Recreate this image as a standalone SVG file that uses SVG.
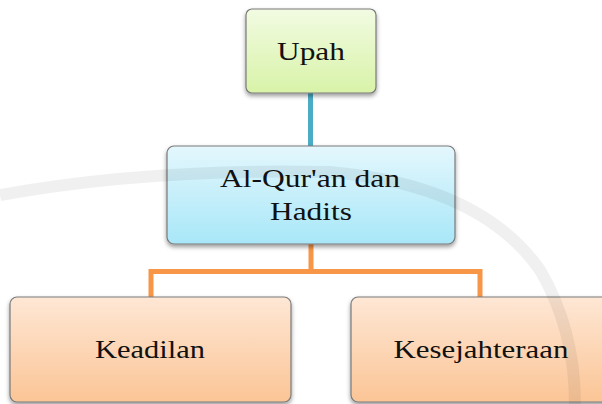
<svg xmlns="http://www.w3.org/2000/svg" width="602" height="404" viewBox="0 0 602 404">
<style>
.box{stroke:#7a7a7a;stroke-width:1.2}
.lbl{font-family:"Liberation Serif","Times New Roman",serif;font-size:26px;fill:#111;text-anchor:middle}
.wm{fill:none;stroke:#000;stroke-opacity:0.06;stroke-width:12}
</style>
<defs>
<linearGradient id="gG" x1="0" y1="0" x2="0" y2="1"><stop offset="0" stop-color="#f2fbe2"/><stop offset="1" stop-color="#d8f3a8"/></linearGradient>
<linearGradient id="gB" x1="0" y1="0" x2="0" y2="1"><stop offset="0" stop-color="#e4f7fd"/><stop offset="1" stop-color="#a8e7f8"/></linearGradient>
<linearGradient id="gO" x1="0" y1="0" x2="0" y2="1"><stop offset="0" stop-color="#fee7d5"/><stop offset="1" stop-color="#fbc596"/></linearGradient>
<filter id="sh" x="-10%" y="-10%" width="120%" height="130%"><feDropShadow dx="0" dy="2.5" stdDeviation="2" flood-color="#000" flood-opacity="0.4"/></filter>
</defs>
<rect width="602" height="404" fill="#fff"/>
<g id="connectors" fill="none" stroke-width="5">
<line x1="310.5" y1="92" x2="310.5" y2="147" stroke="#4bacc6"/>
<path d="M311 244 V271.5 M151 297 V271.5 H480 V297" stroke="#f79646"/>
</g>
<g id="upah">
<rect class="box" x="246" y="9" width="130" height="84" rx="6" fill="url(#gG)" filter="url(#sh)"/>
<text class="lbl" x="311" y="60" textLength="68" lengthAdjust="spacingAndGlyphs">Upah</text>
</g>
<g id="alquran">
<rect class="box" x="167" y="146" width="288" height="98" rx="7" fill="url(#gB)" filter="url(#sh)"/>
<text class="lbl" x="310" y="187" textLength="180" lengthAdjust="spacingAndGlyphs">Al-Qur'an dan</text>
<text class="lbl" x="311" y="220" textLength="82" lengthAdjust="spacingAndGlyphs">Hadits</text>
</g>
<g id="keadilan">
<rect class="box" x="10" y="297" width="281" height="105" rx="7" fill="url(#gO)" filter="url(#sh)"/>
<text class="lbl" x="150" y="358" textLength="110" lengthAdjust="spacingAndGlyphs">Keadilan</text>
</g>
<g id="kesejahteraan">
<rect class="box" x="351" y="297" width="262" height="105" rx="7" fill="url(#gO)" filter="url(#sh)"/>
<text class="lbl" x="481" y="358" textLength="175" lengthAdjust="spacingAndGlyphs">Kesejahteraan</text>
</g>
<g id="watermark">
<path class="wm" d="M0 195 Q150 168 330 172 Q480 185 540 270 Q575 330 575 404"/>
</g>
</svg>
